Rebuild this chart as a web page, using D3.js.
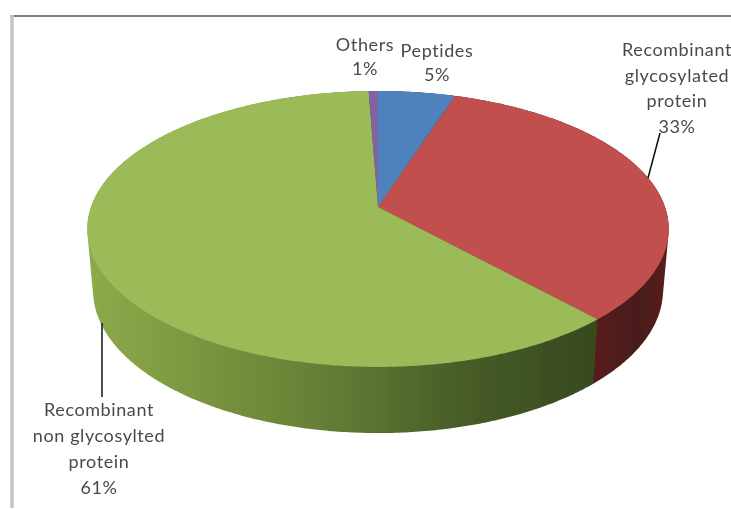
<!DOCTYPE html>
<html>
<head>
<meta charset="utf-8">
<script src="https://cdn.jsdelivr.net/npm/d3@7"></script>
<style>
    html, body { margin: 0; padding: 0; background: #fff; overflow: hidden; }
    svg { display: block; }
    text { font-family: Lato, sans-serif; font-size: 18px; letter-spacing: 0.6px; fill: #4a4a4a; text-anchor: middle; }
</style>
</head>
<body>
<div id="chart"></div>
<script>
// values, the labels show them rounded
const categories = ["Peptides", "Recombinant glycosylated protein", "Recombinant non glycosylted protein", "Others"];
const values = [5, 33.2, 61.2, 0.6];
const topColors = ["#4f81bd", "#c0504d", "#9bbb59", "#8064a2"];
const labelLines = [
    ["Peptides"],
    ["Recombinant", "glycosylated", "protein"],
    ["Recombinant", "non glycosylted", "protein"],
    ["Others"]
];

const width = 731, height = 509;

const svg = d3.select("#chart").append("svg")
    .attr("width", width)
    .attr("height", height);

const defs = svg.append("defs");
defs.append("filter").attr("id", "soft")
    .append("feGaussianBlur").attr("stdDeviation", 0.6);

// Wall shading runs left to right across the disc
function wallGradient(id, stops) {
    const g = defs.append("linearGradient").attr("id", id)
        .attr("gradientUnits", "userSpaceOnUse")
        .attr("x1", 87).attr("x2", 669).attr("y1", 0).attr("y2", 0);
    stops.forEach(s => g.append("stop").attr("offset", s[0]).attr("stop-color", s[1]));
}
wallGradient("wall-green", [[0, "#8dab4c"], [0.1, "#83a044"], [0.4, "#667f36"], [0.65, "#475c28"], [0.88, "#38481f"], [1, "#38481f"]]);
wallGradient("wall-red", [[0, "#5e2020"], [0.88, "#571d1d"], [0.95, "#481a1a"], [1, "#5c1c1c"]]);
wallGradient("wall-blue", [[0, "#2c4a6e"], [1, "#2c4a6e"]]);
wallGradient("wall-purple", [[0, "#4a3a60"], [1, "#4a3a60"]]);
const wallFills = ["url(#wall-blue)", "url(#wall-red)", "url(#wall-green)", "url(#wall-purple)"];

// Perspective tilt: the far side of the disc is squeezed, so the apex sits above the ellipse centre
const tilt = 0.159;
const topRim = {x: 378, y: 207, kx: 287, ky: 134.5};
const bottomRim = {x: 378, y: 267.3, kx: 281.4, ky: 139.4};

function project(rim, a) {
    const d = 1 + tilt * Math.cos(a);
    return [rim.x + rim.kx * Math.sin(a) / d, rim.y - rim.ky * Math.cos(a) / d];
}

function sweep(rim, a0, a1) {
    const n = Math.max(2, Math.ceil(Math.abs(a1 - a0) / 0.01));
    return d3.range(n + 1).map(i => project(rim, a0 + (a1 - a0) * i / n));
}

const slices = d3.pie().sort(null).value(d => d)(values);
const line = d3.line();
const chart = svg.append("g").attr("filter", "url(#soft)");

// Frame left over from the original chart area
chart.append("line").attr("x1", 10).attr("x2", width).attr("y1", 16).attr("y2", 16)
    .attr("stroke", "#7f7f7f").attr("stroke-width", 2);
chart.append("line").attr("x1", 12).attr("x2", 12).attr("y1", 15).attr("y2", 508)
    .attr("stroke", "#c4c4c4").attr("stroke-width", 3.5);

// Walls first, the top surface covers their far side.
// Hull of both rims so the silhouette runs straight from the top edge to the bottom edge
chart.selectAll("path.wall")
    .data(slices)
    .enter().append("path")
    .attr("class", "wall")
    .attr("fill", (d, i) => wallFills[i])
    .attr("d", d => line(d3.polygonHull(sweep(topRim, d.startAngle, d.endAngle)
        .concat(sweep(bottomRim, d.endAngle, d.startAngle)))) + "Z");

chart.selectAll("path.top")
    .data(slices)
    .enter().append("path")
    .attr("class", "top")
    .attr("fill", (d, i) => topColors[i])
    .attr("d", d => line([[topRim.x, topRim.y]].concat(sweep(topRim, d.startAngle, d.endAngle))) + "Z");

// Leader lines
chart.append("line").attr("x1", 660).attr("y1", 133).attr("x2", 648).attr("y2", 178)
    .attr("stroke", "#111").attr("stroke-width", 1.5);
chart.append("line").attr("x1", 102).attr("y1", 323).attr("x2", 102).attr("y2", 397)
    .attr("stroke", "#111").attr("stroke-width", 1.5);

// Label anchors, same order as categories
const labelPos = [
    {x: 437, y: 57, step: 24},
    {x: 677, y: 56, step: 25.5},
    {x: 99, y: 416, step: 26},
    {x: 365, y: 51, step: 24}
];

const labels = chart.selectAll("text.label")
    .data(categories)
    .enter().append("text")
    .attr("class", "label")
    .attr("x", (d, i) => labelPos[i].x)
    .attr("y", (d, i) => labelPos[i].y);

labels.each(function(d, i) {
    const lines = labelLines[i].concat(Math.round(values[i]) + "%");
    d3.select(this).selectAll("tspan")
        .data(lines)
        .enter().append("tspan")
        .attr("x", labelPos[i].x)
        .attr("dy", (t, j) => j === 0 ? 0 : labelPos[i].step)
        .text(t => t);
});
</script>
</body>
</html>
